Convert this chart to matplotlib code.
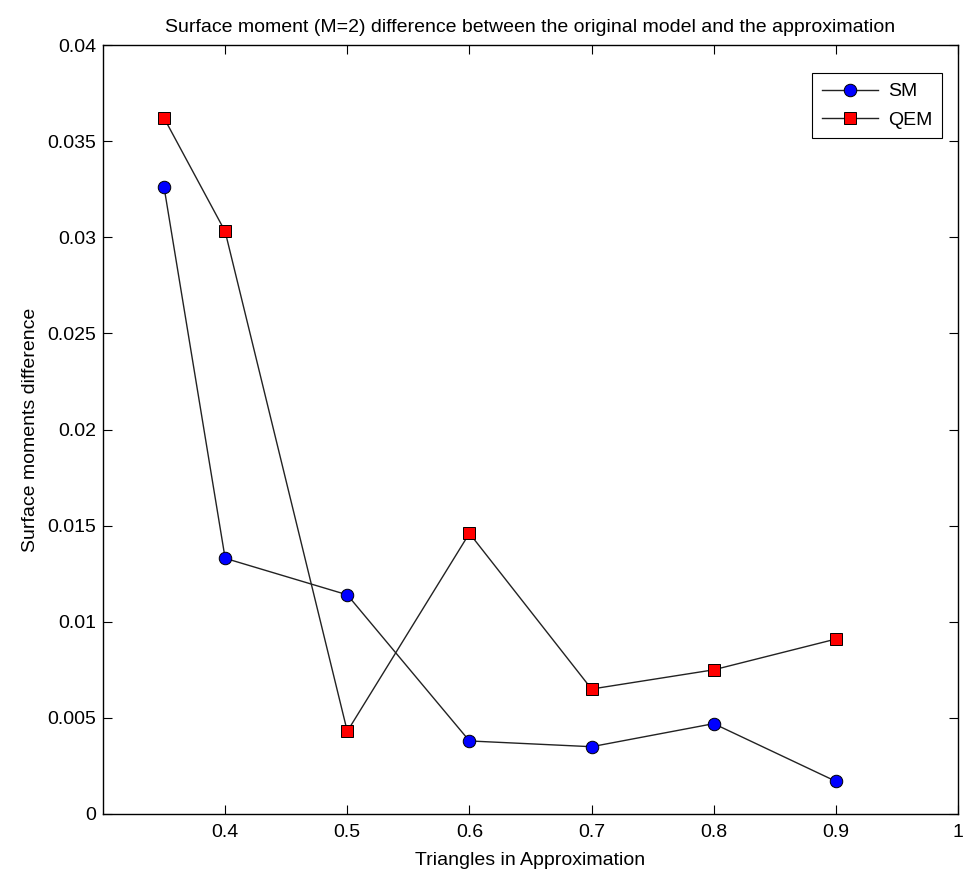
import numpy as np
import matplotlib
matplotlib.use("Agg")
import matplotlib.pyplot as plt

# ratio of triangles kept in the approximation
ratio = [0.35, 0.4, 0.5, 0.6, 0.7, 0.8, 0.9]
sm = [0.0326, 0.0133, 0.0114, 0.0038, 0.0035, 0.0047, 0.0017]
qem = [0.0362, 0.0303, 0.0043, 0.0146, 0.0065, 0.0075, 0.0091]

xticks = [0.4, 0.5, 0.6, 0.7, 0.8, 0.9, 1.0]
xticklabels = ['0.4', '0.5', '0.6', '0.7', '0.8', '0.9', '1']
yticks = [0, 0.005, 0.01, 0.015, 0.02, 0.025, 0.03, 0.035, 0.04]
yticklabels = ['0', '0.005', '0.01', '0.015', '0.02', '0.025', '0.03', '0.035', '0.04']

plt.rcParams['font.family'] = ['Liberation Sans', 'DejaVu Sans']
fs = 14

fig = plt.figure(figsize=(9.64, 8.73), dpi=100)
ax = fig.add_axes([103 / 964, 59 / 873, 855 / 964, 769 / 873])

ax.plot(ratio, sm, color='#222222', linewidth=1.0, marker='o', markersize=9,
        markerfacecolor='#0000FF', markeredgecolor='#000000', markeredgewidth=0.7, label='SM')
ax.plot(ratio, qem, color='#222222', linewidth=1.0, marker='s', markersize=9,
        markerfacecolor='#FF0000', markeredgecolor='#000000', markeredgewidth=0.7, label='QEM')

ax.set_xlim(0.3, 1.0)
ax.set_ylim(0, 0.04)
ax.set_xticks(xticks)
ax.set_xticklabels(xticklabels, fontsize=fs)
ax.set_yticks(yticks)
ax.set_yticklabels(yticklabels, fontsize=fs)
ax.tick_params(direction='in', top=True, right=True, length=6.5, width=0.8, pad=5)
ax.tick_params(axis='x', pad=7)

for s in ax.spines.values():
    s.set_linewidth(1.0)

ax.set_title('Surface moment (M=2) difference between the original model and the approximation',
             fontsize=fs, pad=9)
ax.set_xlabel('Triangles in Approximation', fontsize=fs, labelpad=8)
ax.set_ylabel('Surface moments difference', fontsize=fs, labelpad=6)

leg = ax.legend(loc='upper right', bbox_to_anchor=(942 / 964, (873 - 73) / 873),
                bbox_transform=fig.transFigure, borderaxespad=0, fancybox=False,
                framealpha=1, edgecolor='black', prop={'size': fs},
                handlelength=2.9, handletextpad=0.5, borderpad=0.5, labelspacing=0.55)
leg.get_frame().set_linewidth(0.8)

fig.savefig('out.png', dpi=100)
